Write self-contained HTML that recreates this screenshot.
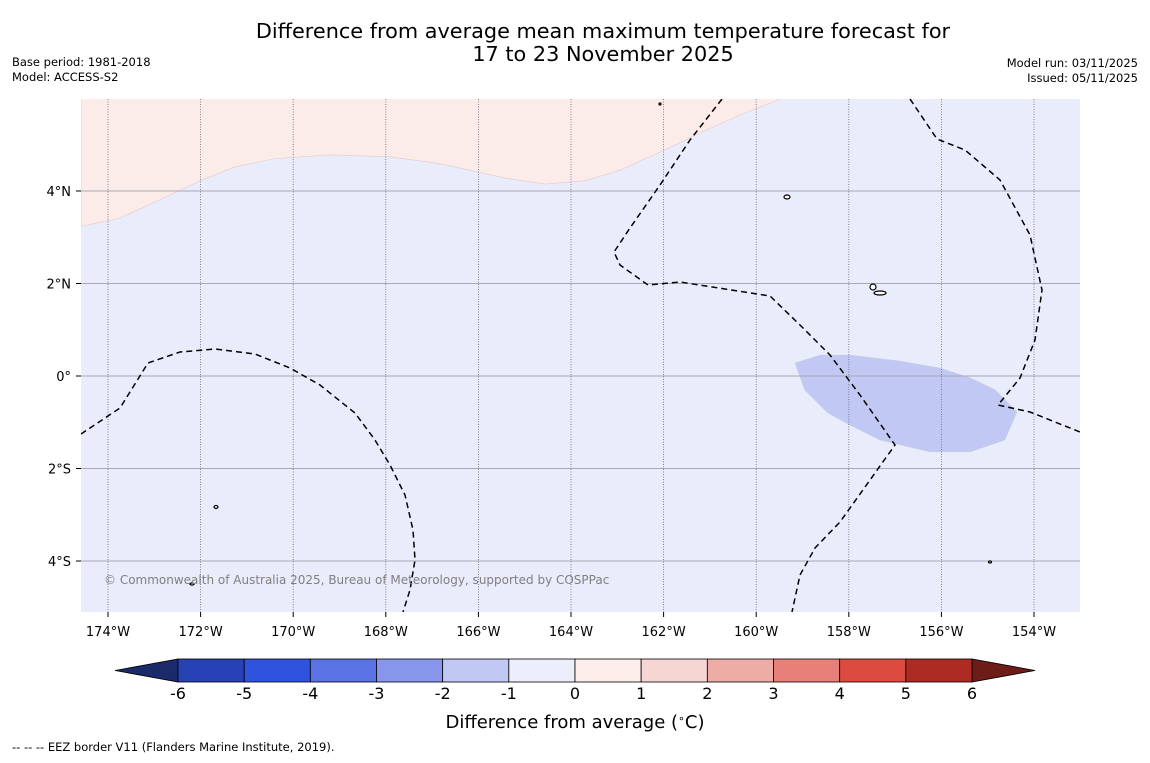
<!DOCTYPE html>
<html><head><meta charset="utf-8"><style>
body{margin:0;background:#fff;width:1150px;height:758px;overflow:hidden;font-family:"Liberation Sans","DejaVu Sans",sans-serif;}
</style></head><body>
<svg width="1150" height="758" xmlns="http://www.w3.org/2000/svg" style="font-family:'DejaVu Sans','Liberation Sans',sans-serif">
<text x="603" y="38" text-anchor="middle" font-size="20.8">Difference from average mean maximum temperature forecast for</text>
<text x="603" y="61" text-anchor="middle" font-size="20.8">17 to 23 November 2025</text>
<text x="12" y="66" font-size="11.5">Base period: 1981-2018</text>
<text x="12" y="81" font-size="11.5">Model: ACCESS-S2</text>
<text x="1138" y="67" font-size="11.5" text-anchor="end">Model run: 03/11/2025</text>
<text x="1138" y="82" font-size="11.5" text-anchor="end">Issued: 05/11/2025</text>
<defs><clipPath id="mc"><rect x="81" y="99" width="999" height="513"/></clipPath></defs>
<g clip-path="url(#mc)" id="map">
<rect x="81" y="99" width="999" height="513" fill="#e9ecfb"/>
</g>
<g id="axes"></g>
<text x="104" y="584" font-size="12" fill="#808080">© Commonwealth of Australia 2025, Bureau of Meteorology, supported by COSPPac</text>
<g id="cbar"></g>
<text x="575" y="728" text-anchor="middle" font-size="18">Difference from average (<tspan baseline-shift="super" font-size="11">∘</tspan>C)</text>
<text x="12" y="751" font-size="11.5">--  --  -- EEZ border V11 (Flanders Marine Institute, 2019).</text>
</svg>
<script>
const lonTicks=[-174,-172,-170,-168,-166,-164,-162,-160,-158,-156,-154];
const latTicks=[4,2,0,-2,-4];
const latLabels=["4°N","2°N","0°","2°S","4°S"];
const pinkRegion=[[-174.58,3.24],[-173.78,3.40],[-172.88,3.81],[-172.01,4.22],[-171.26,4.52],[-170.39,4.70],[-169.21,4.78],[-167.91,4.74],[-166.83,4.59],[-165.43,4.28],[-164.56,4.15],[-163.70,4.22],[-162.94,4.45],[-161.97,4.89],[-161.21,5.26],[-160.35,5.64],[-159.38,6.03]];
const bluePatch=[[-159.16,0.28],[-158.62,0.45],[-157.97,0.45],[-156.89,0.32],[-156.03,0.17],[-155.38,-0.04],[-154.84,-0.30],[-154.37,-0.78],[-154.63,-1.38],[-155.38,-1.64],[-156.25,-1.64],[-157.33,-1.38],[-157.97,-1.06],[-158.45,-0.80],[-158.95,-0.30]];
const cbLevels=[-6,-5,-4,-3,-2,-1,0,1,2,3,4,5,6];
const cbColors=["#2742b4","#2f53df","#5a72e3","#8796eb","#c1c8f3","#eceffb","#fdeeeb","#f5d6d3","#eeaca7","#e8807a","#dc4a40","#ad2b23"];
const NS="http://www.w3.org/2000/svg";
const X=lon=>108+(lon+174)*46.3, Y=lat=>376-lat*46.25;
function mk(t,a,p){const e=document.createElementNS(NS,t);for(const k in a)e.setAttribute(k,a[k]);p.appendChild(e);return e;}
const map=document.getElementById('map'),axes=document.getElementById('axes'),cb=document.getElementById('cbar');
let d="M81,99 "+pinkRegion.map(p=>"L"+X(p[0])+","+Y(p[1])).join(" ")+" L1080,60 L81,60Z";
let e=mk('path',{d:d,fill:"#fbebe9",stroke:"#e8c8c8","stroke-width":0.6},map);


d="M"+bluePatch.map(p=>X(p[0])+","+Y(p[1])).join(" L")+"Z";
e=mk('path',{d:d,fill:"#c1c8f3",stroke:"#c8cbe0","stroke-width":0.6},map);


lonTicks.forEach(l=>{const g=mk('line',{x1:X(l),x2:X(l),y1:99,y2:612,stroke:"#6a6a80","stroke-width":0.8,"stroke-dasharray":"1,1.5"},map);

});
latTicks.forEach(l=>{const g=mk('line',{x1:81,x2:1080,y1:Y(l),y2:Y(l),stroke:"#a8a8b8","stroke-width":1},map);

});
const eez=["M81,434 L120,408 L148,363 L180,352 L215,349 L255,354 L290,368 L320,385 L355,413 L375,440 L390,465 L405,495 L413,530 L415,560 L410,590 L403,612",
"M722,99 L690,140 L660,185 L630,228 L614,252 L620,265 L648,285 L680,282 L770,296 L800,325 L830,355 L860,395 L895,445 L870,480 L840,522 L815,548 L800,575 L792,612",
"M910,99 L937,139 L965,150 L1000,180 L1030,235 L1042,290 L1035,340 L1020,378 L998,405 L1030,412 L1080,432"];
eez.forEach(p=>{const g=mk('path',{d:p,fill:"none",stroke:"#000","stroke-width":1.5,"stroke-dasharray":"6,4"},map);

});
[[787,197,3,2],[873,287,3,3],[880,293,6,2],[216,507,2,1.5],[192,584,2,1],[660,104,1,1],[990,562,1.5,1]].forEach(c=>{const g=mk('ellipse',{cx:c[0],cy:c[1],rx:c[2],ry:c[3],fill:"#fff",stroke:"#000","stroke-width":1.2},map);

});
lonTicks.forEach(l=>{mk('line',{x1:X(l),x2:X(l),y1:612,y2:617,stroke:"#000"},axes);
const t=mk('text',{x:X(l),y:636,"text-anchor":"middle","font-size":13},axes);t.textContent=Math.abs(l)+"°W";

});
latTicks.forEach((l,i)=>{mk('line',{x1:76,x2:81,y1:Y(l),y2:Y(l),stroke:"#000"},axes);
const t=mk('text',{x:71,y:Y(l)+5,"text-anchor":"end","font-size":13},axes);t.textContent=latLabels[i];

});
const CX=v=>178+(v+6)*(794/12);
let g=mk('polygon',{points:`${CX(-6)},659 ${CX(-6)},682 115,670.5`,fill:"#1b2a6b",stroke:"#000","stroke-width":0.8},cb);


g=mk('polygon',{points:`${CX(6)},659 ${CX(6)},682 1035,670.5`,fill:"#6e1c17",stroke:"#000","stroke-width":0.8},cb);


cbColors.forEach((c,i)=>{const r=mk('rect',{x:CX(cbLevels[i]),y:659,width:CX(cbLevels[i+1])-CX(cbLevels[i]),height:23,fill:c,stroke:"#000","stroke-width":0.8},cb);

});
cbLevels.forEach(v=>{const t=mk('text',{x:CX(v),y:699,"text-anchor":"middle","font-size":16},cb);t.textContent=v;

});
</script>
</body></html>
